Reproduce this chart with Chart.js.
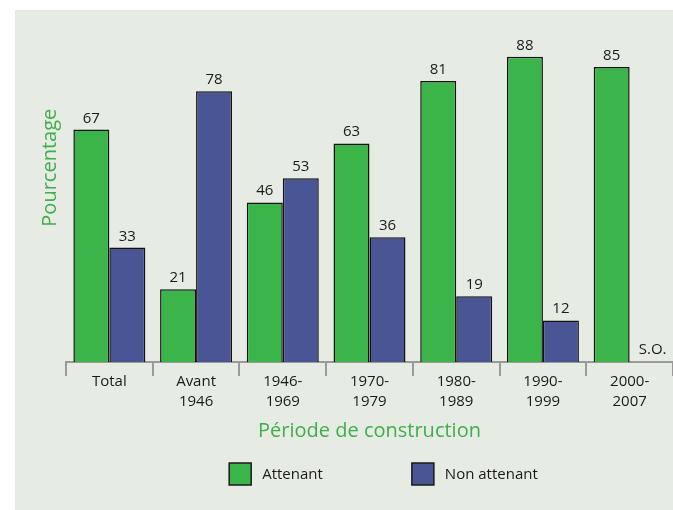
<!DOCTYPE html>
<html>
<head>
<meta charset="utf-8">
<script src="https://cdn.jsdelivr.net/npm/chart.js@4/dist/chart.umd.min.js"></script>
<style>
  html, body { margin: 0; padding: 0; background: #ffffff; }
  #panel {
    position: absolute;
    left: 15px;
    top: 10px;
    width: 658px;
    height: 500px;
    background: #e6ece3;
  }
</style>
</head>
<body>
<div id="panel"><canvas id="myChart"></canvas></div>
<script>
// periods of construction (two-line tick labels)
var periodes = [
  ["Total"],
  ["Avant", "1946"],
  ["1946-", "1969"],
  ["1970-", "1979"],
  ["1980-", "1989"],
  ["1990-", "1999"],
  ["2000-", "2007"],
];
var attenant = [67, 21, 46, 63, 81, 88, 85];
// no value for the last period -> "S.O."
var nonAttenant = [33, 78, 53, 36, 19, 12, null];
var serieNames = ["Attenant", "Non attenant"];
var serieColors = ["#3bb54a", "#4a5596"];

var FONT = "'Open Sans', 'Noto Sans', sans-serif";
var GREEN_TEXT = "#41ad4c";

// value above each bar, "S.O." where there is no data
var valueLabels = {
  id: "valueLabels",
  afterDatasetsDraw(chart) {
    var ctx = chart.ctx;
    ctx.save();
    ctx.font = "15px " + FONT;
    ctx.fillStyle = "#1a1a1a";
    ctx.textAlign = "center";
    ctx.textBaseline = "alphabetic";
    chart.data.datasets.forEach((ds, i) => {
      chart.getDatasetMeta(i).data.forEach((bar, j) => {
        var v = ds.data[j];
        if (v === null) {
          ctx.fillText("S.O.", bar.x + 5, chart.chartArea.bottom - 8);
        } else {
          ctx.fillText(String(v), bar.x, bar.y - 7);
        }
      });
    });
    ctx.restore();
  },
};

// rotated y title and the legend row under the axis title
var extras = {
  id: "extras",
  afterDraw(chart) {
    var ctx = chart.ctx;
    var area = chart.chartArea;
    ctx.save();
    ctx.font = "20px " + FONT;
    ctx.fillStyle = GREEN_TEXT;
    ctx.textAlign = "center";
    ctx.textBaseline = "middle";
    ctx.translate(area.left - 16, area.top + (area.bottom - area.top) * 0.44);
    ctx.rotate(-Math.PI / 2);
    ctx.fillText("Pourcentage", 0, 0);
    ctx.restore();

    ctx.save();
    ctx.font = "15px " + FONT;
    var box = 22, gapText = 11, gapItem = 89;
    var widths = serieNames.map((n) => box + gapText + ctx.measureText(n).width);
    var total = widths[0] + gapItem + widths[1];
    var x = (area.left + area.right) / 2 + 14 - total / 2;
    var y = 453;
    serieNames.forEach((n, i) => {
      ctx.fillStyle = serieColors[i];
      ctx.fillRect(x, y, box, box);
      ctx.strokeStyle = "#1a1a1a";
      ctx.lineWidth = 1.5;
      ctx.strokeRect(x, y, box, box);
      ctx.fillStyle = "#1a1a1a";
      ctx.textAlign = "left";
      ctx.textBaseline = "middle";
      ctx.fillText(n, x + box + gapText, y + box / 2 + 1);
      x += widths[i] + gapItem;
    });
    ctx.restore();
  },
};

var ctx = document.getElementById("myChart").getContext("2d");
var chart = new Chart(ctx, {
  type: "bar",
  data: {
    labels: periodes,
    datasets: [
      {
        label: serieNames[0],
        data: attenant,
        backgroundColor: serieColors[0],
        borderColor: "#111111",
        borderWidth: 1.5,
        categoryPercentage: 0.83,
        barPercentage: 1,
      },
      {
        label: serieNames[1],
        data: nonAttenant,
        backgroundColor: serieColors[1],
        borderColor: "#111111",
        borderWidth: 1.5,
        categoryPercentage: 0.83,
        barPercentage: 1,
      },
    ],
  },
  options: {
    responsive: true,
    maintainAspectRatio: false,
    animation: false,
    layout: {
      padding: { left: 51, right: 0, top: 5, bottom: 63 },
    },
    plugins: {
      legend: { display: false },
      tooltip: { enabled: false },
    },
    scales: {
      x: {
        grid: {
          display: true,
          drawOnChartArea: false,
          drawTicks: true,
          tickLength: 14,
          color: "#9a9a9a",
          lineWidth: 2,
          offset: true,
        },
        border: { display: true, color: "#9a9a9a", width: 2 },
        ticks: {
          color: "#1a1a1a",
          padding: -4,
          maxRotation: 0,
          autoSkip: false,
          font: { family: FONT, size: 15, lineHeight: 1.33 },
        },
        title: {
          display: true,
          text: "Période de construction",
          color: GREEN_TEXT,
          padding: { top: 11, bottom: 4 },
          font: { family: FONT, size: 20 },
        },
      },
      y: {
        display: false,
        min: 0,
        max: 100,
      },
    },
  },
  plugins: [valueLabels, extras],
});
</script>
</body>
</html>
